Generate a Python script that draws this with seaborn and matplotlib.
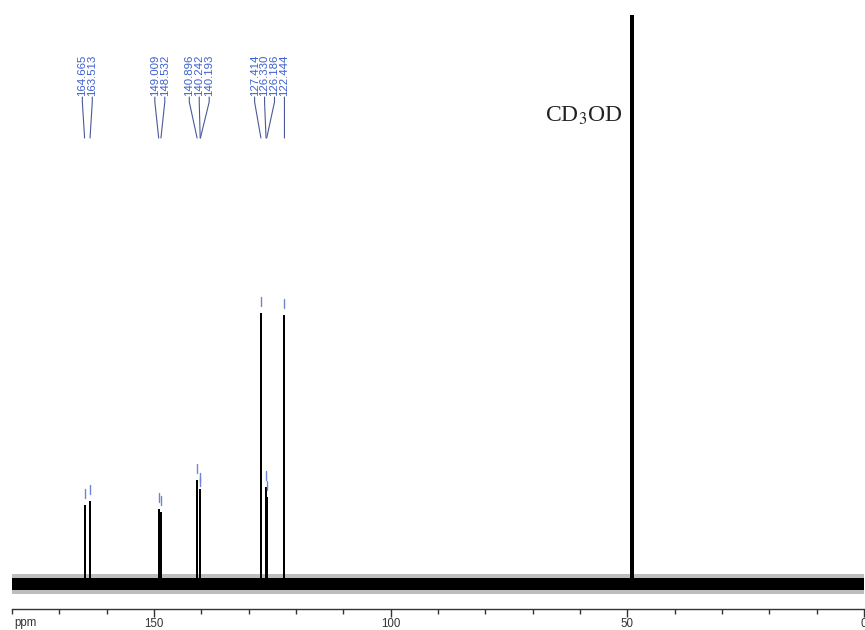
import numpy as np
import pandas as pd
import matplotlib
matplotlib.use("Agg")
import matplotlib.pyplot as plt
import seaborn as sns
from matplotlib.ticker import MultipleLocator, FixedLocator

sns.set_theme(style="white")
plt.rcParams["font.family"] = ["Liberation Sans", "DejaVu Sans"]
plt.rcParams["mathtext.fontset"] = "stix"

# 13C peak list (ppm) and peak heights (arbitrary intensity)
peak_ppm = [164.665, 163.513, 149.009, 148.532, 140.896, 140.242, 140.193,
            127.414, 126.330, 126.186, 122.444]
peak_height = [78, 82, 74, 71, 103, 94, 90, 270, 96, 86, 268]
# label groups (indices into the peak list)
label_groups = [[0, 1], [2, 3], [4, 5, 6], [7, 8, 9, 10]]

# solvent multiplet (CD3OD septet around 49.0 ppm), goes off scale
solvent_ppm = [48.70, 48.85, 49.00, 49.15, 49.30]
solvent_height = [900, 1500, 2000, 1500, 900]
solvent_label = "CD$_3$OD"

x_ticks_major = [150, 100, 50, 0]

# stick spectrum as one continuous trace
xs, ys = [180.0], [0.0]
all_ppm = peak_ppm + solvent_ppm
all_h = peak_height + solvent_height
for p, h in sorted(zip(all_ppm, all_h), reverse=True):
    xs += [p, p, p]
    ys += [0.0, h, 0.0]
xs.append(0.0)
ys.append(0.0)
spec = pd.DataFrame({"ppm": xs, "intensity": ys})

fig = plt.figure(figsize=(8.65, 6.30), dpi=100)
ax = fig.add_axes([12 / 865, 21 / 630, 852 / 865, 594 / 630])

# baseline noise band
ax.fill_between([180, 0], [-6, -6], [6, 6], color="black", lw=0, zorder=2)
ax.fill_between([180, 0], [-10, -10], [10, 10], color="#444444", alpha=0.35, lw=0, zorder=1)

sns.lineplot(data=spec, x="ppm", y="intensity", sort=False, estimator=None,
             color="black", lw=1.2, ax=ax, zorder=3)

ax.set_xlim(180, 0)
ax.set_ylim(-25, 569)

label_color = "#3d5fd0"
line_color = "#4a5a96"
text_base = 488
knee = 482
foot = 446
spacing = 2.1
for grp in label_groups:
    centre = np.mean([peak_ppm[i] for i in grp])
    n = len(grp)
    for k, i in enumerate(grp):
        lx = centre + spacing * ((n - 1) / 2 - k)
        px = peak_ppm[i]
        ax.text(lx, text_base, f"{px:.3f}", rotation=90, ha="center", va="bottom",
                fontsize=8.2, color=label_color)
        ax.plot([lx, lx, px], [text_base - 1, knee, foot], color=line_color, lw=0.8, zorder=3)
        ax.plot([px, px], [peak_height[i] + 8, peak_height[i] + 17],
                color="#6d86d8", lw=1.0, zorder=3)

ax.text(67.4, 462, solvent_label, fontsize=17, family="Liberation Serif",
        color="#222222", ha="left", va="baseline")

# axis styling: only a bottom ppm scale
for s in ["top", "left", "right"]:
    ax.spines[s].set_visible(False)
ax.spines["bottom"].set_color("#333333")
ax.spines["bottom"].set_linewidth(1.0)
ax.set_yticks([])
ax.xaxis.set_major_locator(FixedLocator(x_ticks_major))
ax.xaxis.set_minor_locator(MultipleLocator(10))
ax.tick_params(axis="x", which="major", direction="out", length=6, width=1.0,
               color="#333333", labelsize=8.3, labelcolor="#333333", pad=0.5, bottom=True)
ax.tick_params(axis="x", which="minor", direction="out", length=3.5, width=1.0,
               color="#333333", bottom=True)
ax.set_xlabel("")
ax.set_ylabel("")
ax.text(179.6, -39, "ppm", fontsize=8.3, color="#333333", ha="left", va="center",
        clip_on=False)

fig.savefig("out.png", dpi=100, facecolor="white")
